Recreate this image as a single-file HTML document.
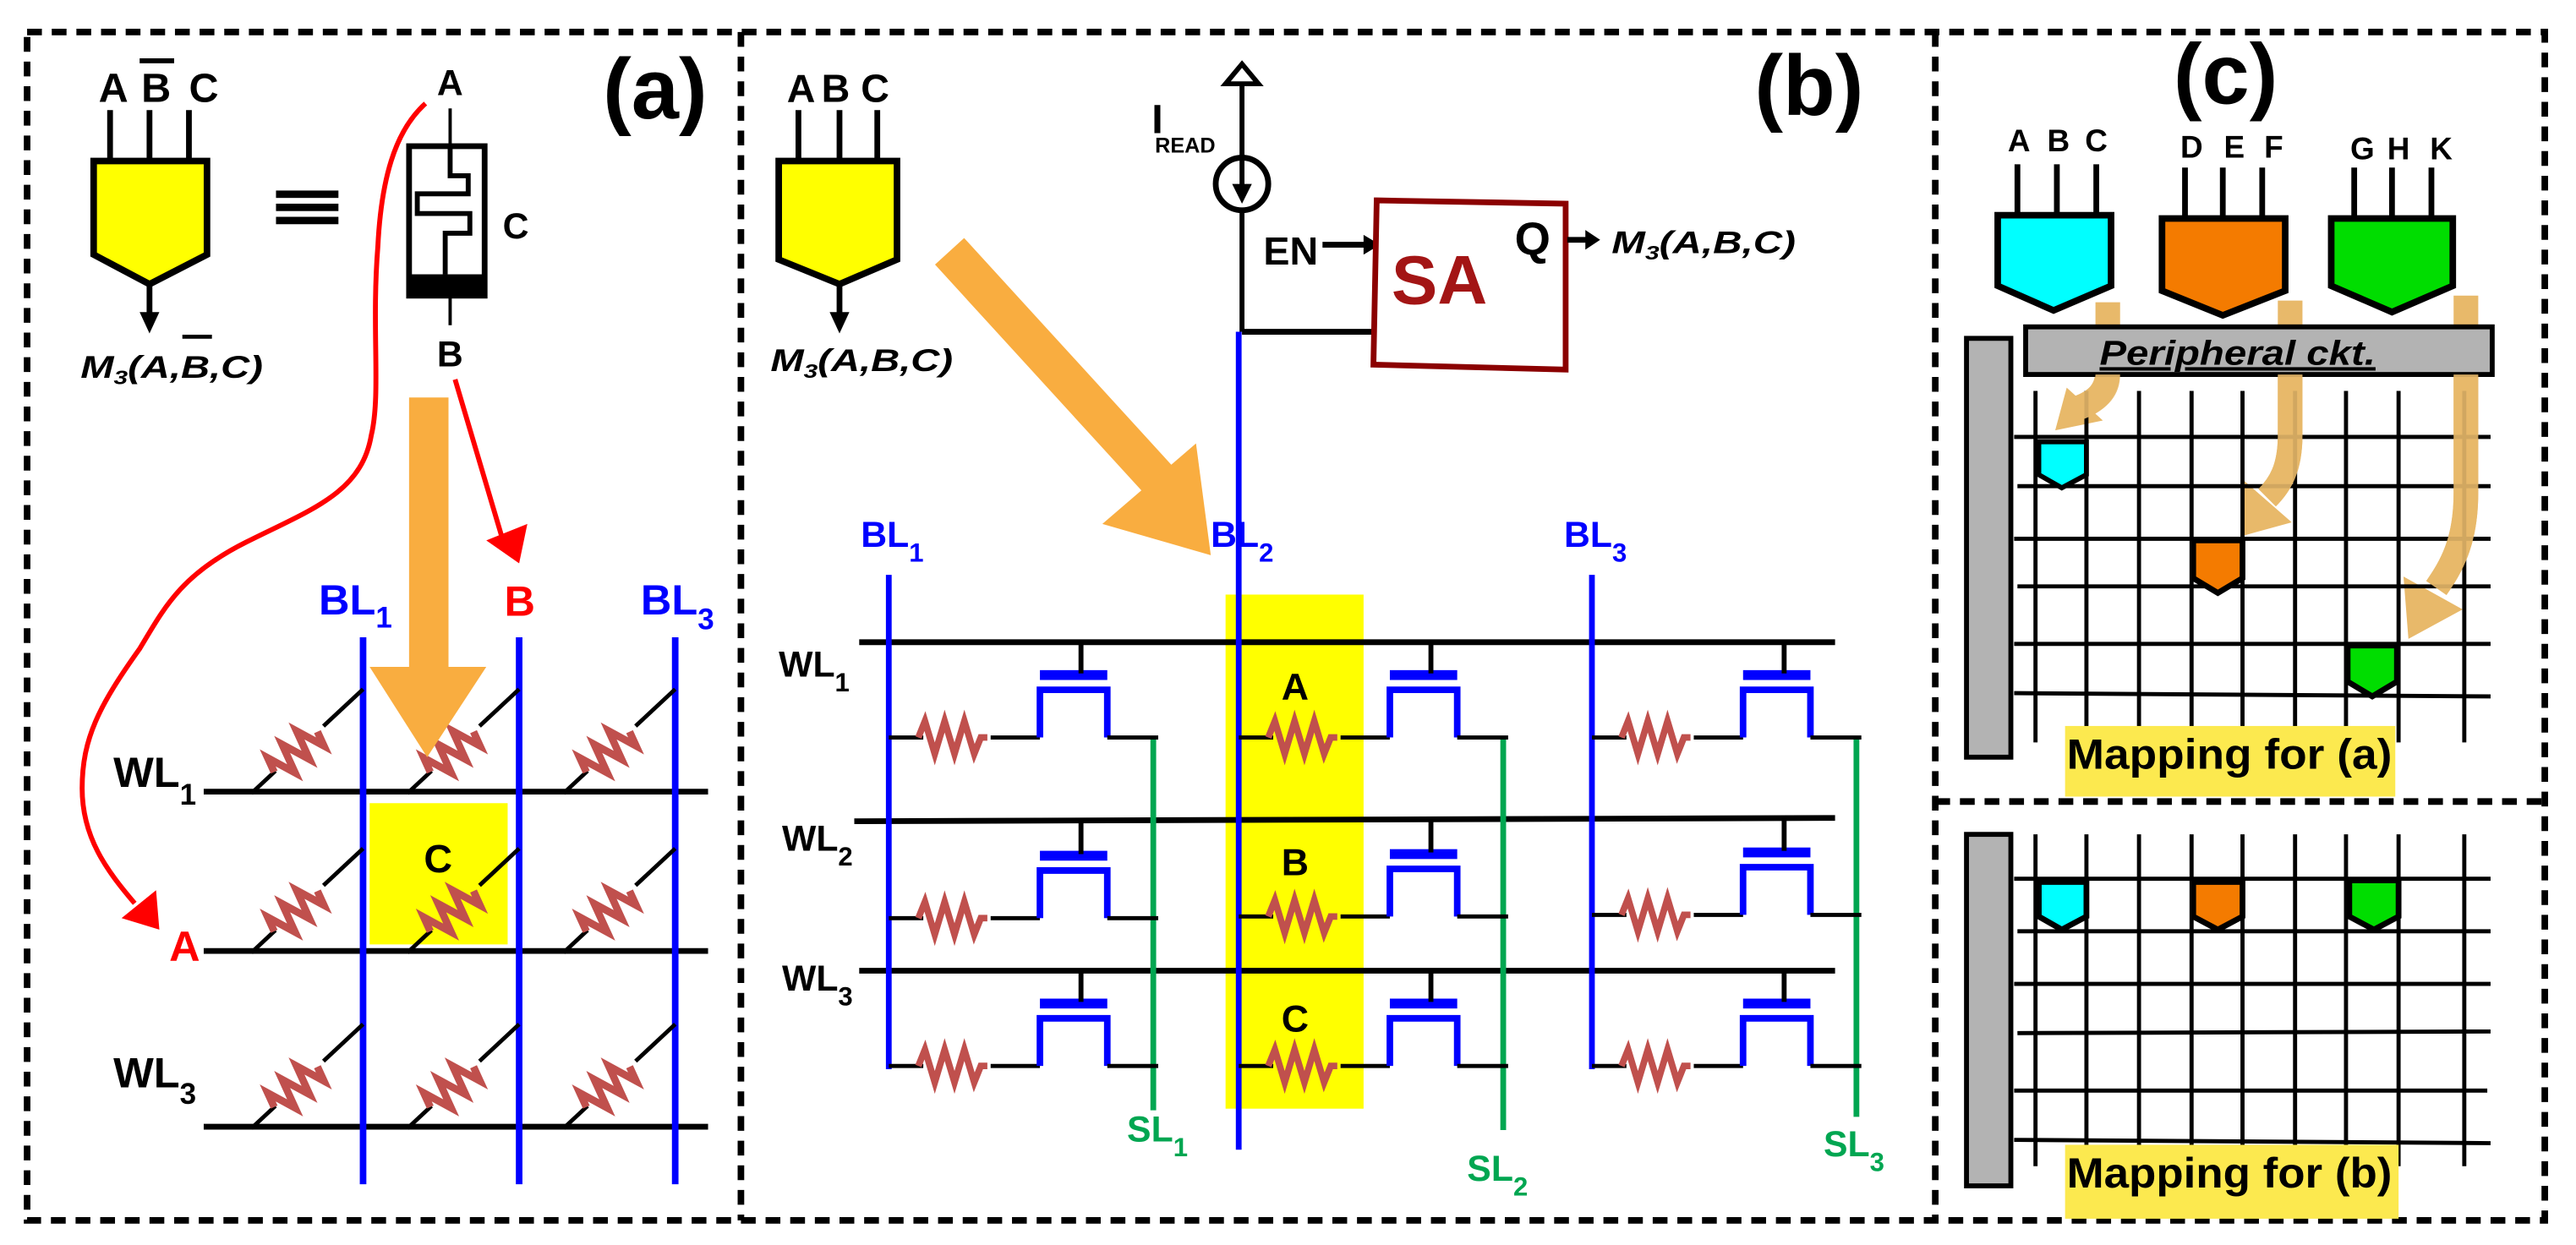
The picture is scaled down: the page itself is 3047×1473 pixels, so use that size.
<!DOCTYPE html>
<html><head><meta charset="utf-8">
<style>
html,body{margin:0;padding:0;background:#fff;}
svg{display:block;}
text{font-family:"Liberation Sans",Arial,sans-serif;font-weight:bold;}
</style></head>
<body>
<svg width="3047" height="1473" viewBox="0 0 1568 758" xmlns="http://www.w3.org/2000/svg">
<rect x="0" y="0" width="1568" height="758" fill="#fff"/>
<!-- frames -->
<g fill="none" stroke="#000" stroke-width="4" stroke-dasharray="9 6">
<rect x="16.5" y="19.5" width="1532.5" height="723.5"/>
<line x1="451" y1="19.5" x2="451" y2="743"/>
<line x1="1178" y1="19.5" x2="1178" y2="743"/>
<line x1="1178" y1="488" x2="1549" y2="488"/>
</g>

<!-- ================= PANEL A ================= -->
<text x="367" y="72" font-size="52">(a)</text>
<text x="60" y="62" font-size="25">A</text>
<text x="86" y="62" font-size="25">B</text>
<line x1="85" y1="37" x2="106" y2="37" stroke="#000" stroke-width="3"/>
<text x="115" y="62" font-size="25">C</text>
<g stroke="#000" stroke-width="3.5">
<line x1="67" y1="67" x2="67" y2="98"/><line x1="91" y1="67" x2="91" y2="98"/><line x1="115" y1="67" x2="115" y2="98"/>
<line x1="91" y1="173" x2="91" y2="192"/>
</g>
<polygon points="57,98 126,98 126,155 91,173 57,155" fill="#ffff00" stroke="#000" stroke-width="4" stroke-linejoin="miter"/>
<polygon points="85,190 97,190 91,203" fill="#000"/>
<text x="49" y="230" font-size="19" font-style="italic" textLength="111" lengthAdjust="spacingAndGlyphs">M<tspan font-size="12" dy="4">3</tspan><tspan dy="-4">(A,B,C)</tspan></text>
<line x1="111" y1="205" x2="129" y2="205" stroke="#000" stroke-width="2.5"/>
<!-- equivalence -->
<g fill="#000"><rect x="168" y="116" width="38" height="4.5"/><rect x="168" y="124" width="38" height="4.5"/><rect x="168" y="132" width="38" height="4.5"/></g>
<!-- device -->
<text x="266" y="58" font-size="22" font-weight="bold">A</text>
<line x1="274" y1="66" x2="274" y2="90" stroke="#000" stroke-width="2"/>
<rect x="249" y="89" width="46" height="91" fill="#fff" stroke="#000" stroke-width="3.5"/>
<rect x="249" y="167" width="46" height="14" fill="#000"/>
<polyline points="274,89 274,107 285,107 285,118 254,118 254,130 286,130 286,142 271,142 271,167" fill="none" stroke="#000" stroke-width="3"/>
<line x1="274" y1="181" x2="274" y2="198" stroke="#000" stroke-width="2"/>
<text x="266" y="223" font-size="22">B</text>
<text x="306" y="145" font-size="22">C</text>
<!-- red curve -->
<path d="M259,63 C240,80 232,110 230,150 C226,200 232,240 226,265 C220,300 190,310 150,330 C110,350 100,370 85,395 C60,430 50,450 50,480 C50,510 65,530 82,550" fill="none" stroke="#ff0000" stroke-width="3"/>
<polygon points="97,566 74,559 95,542" fill="#ff0000"/>
<line x1="277" y1="231" x2="307" y2="332" stroke="#ff0000" stroke-width="3"/>
<polygon points="316,343 296,329 321,319" fill="#ff0000"/>
<!-- grid a -->
<rect x="225" y="489" width="84" height="86" fill="#ffff00"/>
<text x="258" y="531" font-size="24">C</text>
<g stroke="#000" stroke-width="3.5">
<line x1="124" y1="482" x2="431" y2="482"/>
<line x1="124" y1="579" x2="431" y2="579"/>
<line x1="124" y1="686" x2="431" y2="686"/>
</g>
<g stroke="#0000ff" stroke-width="4">
<line x1="221" y1="388" x2="221" y2="721"/>
<line x1="316" y1="388" x2="316" y2="721"/>
<line x1="411" y1="388" x2="411" y2="721"/>
</g>
<defs>
<g id="dres">
<line x1="0" y1="0" x2="20" y2="0" stroke="#000" stroke-width="2.5"/>
<polyline points="19,0 22,-9 28,9 34,-9 40,9 46,-9 52,9 55,0" fill="none" stroke="#c0504d" stroke-width="4.5"/>
<line x1="60" y1="0" x2="93" y2="0" stroke="#000" stroke-width="2.5"/>
</g>
</defs>
<g>
<use href="#dres" transform="translate(153,483) rotate(-43)"/>
<use href="#dres" transform="translate(248,483) rotate(-43)"/>
<use href="#dres" transform="translate(343,483) rotate(-43)"/>
<use href="#dres" transform="translate(153,580) rotate(-43)"/>
<use href="#dres" transform="translate(248,580) rotate(-43)"/>
<use href="#dres" transform="translate(343,580) rotate(-43)"/>
<use href="#dres" transform="translate(153,687) rotate(-43)"/>
<use href="#dres" transform="translate(248,687) rotate(-43)"/>
<use href="#dres" transform="translate(343,687) rotate(-43)"/>
</g>
<!-- orange arrow a -->
<rect x="249" y="242" width="24" height="165" fill="#f9ad40"/>
<polygon points="225,406 296,406 260,461" fill="#f9ad40"/>
<text x="194" y="374" font-size="26" fill="#0000ff">BL<tspan font-size="18" dy="8">1</tspan></text>
<text x="307" y="375" font-size="26" fill="#ff0000">B</text>
<text x="390" y="374" font-size="26" fill="#0000ff">BL<tspan font-size="18" dy="9">3</tspan></text>
<text x="69" y="479" font-size="26">WL<tspan font-size="18" dy="11">1</tspan></text>
<text x="103" y="585" font-size="26" fill="#ff0000">A</text>
<text x="69" y="662" font-size="26">WL<tspan font-size="18" dy="10">3</tspan></text>

<!-- ================= PANEL B ================= -->
<text x="1068" y="70" font-size="52">(b)</text>
<text x="479" y="62" font-size="24">A</text>
<text x="500" y="62" font-size="24">B</text>
<text x="524" y="62" font-size="24">C</text>
<g stroke="#000" stroke-width="3.5">
<line x1="486" y1="67" x2="486" y2="98"/><line x1="511" y1="67" x2="511" y2="98"/><line x1="534" y1="67" x2="534" y2="98"/>
<line x1="511" y1="173" x2="511" y2="192"/>
</g>
<polygon points="474,98 546,98 546,158 511,173 474,158" fill="#ffff00" stroke="#000" stroke-width="4"/>
<polygon points="505,190 517,190 511,203" fill="#000"/>
<text x="469" y="226" font-size="19" font-style="italic" textLength="111" lengthAdjust="spacingAndGlyphs">M<tspan font-size="12" dy="4">3</tspan><tspan dy="-4">(A,B,C)</tspan></text>
<!-- big orange arrow b -->
<line x1="578" y1="153" x2="705" y2="292" stroke="#f9ad40" stroke-width="24"/>
<polygon points="728,270 671,319 737,338" fill="#f9ad40"/>
<!-- IREAD -->
<line x1="756" y1="50" x2="756" y2="202" stroke="#000" stroke-width="3"/>
<polygon points="756,39 766,51 746,51" fill="#fff" stroke="#000" stroke-width="3"/>
<circle cx="756" cy="112" r="16" fill="#fff" stroke="#000" stroke-width="3.5"/>
<line x1="756" y1="96" x2="756" y2="114" stroke="#000" stroke-width="3"/>
<polygon points="750,112 762,112 756,124" fill="#000"/>
<text x="701" y="81" font-size="25" font-weight="normal">I</text>
<text x="703" y="93" font-size="13" font-weight="bold">READ</text>
<line x1="756" y1="202" x2="836" y2="202" stroke="#000" stroke-width="3.5"/>
<text x="769" y="161" font-size="24">EN</text>
<line x1="805" y1="149" x2="832" y2="149" stroke="#000" stroke-width="3.5"/>
<polygon points="830,143 840,149 830,155" fill="#000"/>
<polygon points="838,122 953,124 953,225 836,222" fill="#fff" stroke="#8b0000" stroke-width="3.5"/>
<text x="847" y="185" font-size="42" fill="#a31515">SA</text>
<text x="922" y="155" font-size="28">Q</text>
<line x1="954" y1="146" x2="967" y2="146" stroke="#000" stroke-width="3.5"/>
<polygon points="965,140 974,146 965,152" fill="#000"/>
<text x="981" y="154" font-size="19" font-style="italic" textLength="112" lengthAdjust="spacingAndGlyphs">M<tspan font-size="12" dy="4">3</tspan><tspan dy="-4">(A,B,C)</tspan></text>
<!-- grid b -->
<rect x="746" y="362" width="84" height="313" fill="#ffff00"/>
<g stroke="#000" stroke-width="3.5">
<line x1="523" y1="391" x2="1117" y2="391"/>
<line x1="520" y1="500" x2="1117" y2="498"/>
<line x1="523" y1="591" x2="1117" y2="591"/>
</g>
<g stroke="#0000ff" stroke-width="3.5">
<line x1="541" y1="350" x2="541" y2="651"/>
<line x1="754" y1="202" x2="754" y2="700"/>
<line x1="969" y1="350" x2="969" y2="651"/>
</g>
<g stroke="#00a651" stroke-width="3.5">
<line x1="702" y1="449" x2="702" y2="676"/>
<line x1="915" y1="449" x2="915" y2="688"/>
<line x1="1130" y1="449" x2="1130" y2="680"/>
</g>
<defs>
<g id="cell">
<line x1="0" y1="58" x2="21" y2="58" stroke="#000" stroke-width="2.5"/>
<polyline points="18,58 22,48 28,68 34,48 40,68 46,48 52,68 56,58 60,58" fill="none" stroke="#c0504d" stroke-width="4"/>
<line x1="62" y1="58" x2="92" y2="58" stroke="#000" stroke-width="2.5"/>
<path d="M92,58 V29 H133 V58" fill="none" stroke="#0000ff" stroke-width="4"/>
<line x1="133" y1="58" x2="164" y2="58" stroke="#000" stroke-width="2.5"/>
<rect x="92" y="17" width="41" height="6" fill="#0000ff"/>
<line x1="117" y1="0" x2="117" y2="19" stroke="#000" stroke-width="3"/>
</g>
</defs>
<use href="#cell" transform="translate(541,391)"/>
<use href="#cell" transform="translate(754,391)"/>
<use href="#cell" transform="translate(969,391)"/>
<use href="#cell" transform="translate(541,501)"/>
<use href="#cell" transform="translate(754,500)"/>
<use href="#cell" transform="translate(969,499)"/>
<use href="#cell" transform="translate(541,591)"/>
<use href="#cell" transform="translate(754,591)"/>
<use href="#cell" transform="translate(969,591)"/>
<text x="780" y="426" font-size="23">A</text>
<text x="780" y="533" font-size="23">B</text>
<text x="780" y="628" font-size="23">C</text>
<text x="524" y="333" font-size="22" fill="#0000ff">BL<tspan font-size="16" dy="9">1</tspan></text>
<text x="737" y="333" font-size="22" fill="#0000ff">BL<tspan font-size="16" dy="9">2</tspan></text>
<text x="952" y="333" font-size="22" fill="#0000ff">BL<tspan font-size="16" dy="9">3</tspan></text>
<text x="474" y="412" font-size="22">WL<tspan font-size="16" dy="9">1</tspan></text>
<text x="476" y="518" font-size="22">WL<tspan font-size="16" dy="9">2</tspan></text>
<text x="476" y="603" font-size="22">WL<tspan font-size="16" dy="9">3</tspan></text>
<text x="686" y="695" font-size="22" fill="#00a651">SL<tspan font-size="16" dy="9">1</tspan></text>
<text x="893" y="719" font-size="22" fill="#00a651">SL<tspan font-size="16" dy="9">2</tspan></text>
<text x="1110" y="704" font-size="22" fill="#00a651">SL<tspan font-size="16" dy="9">3</tspan></text>

<!-- ================= PANEL C ================= -->
<text x="1323" y="63" font-size="52">(c)</text>
<g font-size="19" text-anchor="middle">
<text x="1229" y="92">A</text><text x="1253" y="92">B</text><text x="1276" y="92">C</text>
<text x="1334" y="96">D</text><text x="1360" y="96">E</text><text x="1384" y="96">F</text>
<text x="1438" y="97">G</text><text x="1460" y="97">H</text><text x="1486" y="97">K</text>
</g>
<g stroke="#000" stroke-width="3.5">
<line x1="1228" y1="100" x2="1228" y2="132"/><line x1="1252" y1="100" x2="1252" y2="132"/><line x1="1276" y1="100" x2="1276" y2="132"/>
<line x1="1330" y1="102" x2="1330" y2="134"/><line x1="1353" y1="102" x2="1353" y2="134"/><line x1="1377" y1="102" x2="1377" y2="134"/>
<line x1="1433" y1="102" x2="1433" y2="134"/><line x1="1456" y1="102" x2="1456" y2="134"/><line x1="1480" y1="102" x2="1480" y2="134"/>
</g>
<polygon points="1216,131 1285,131 1285,174 1250,189 1216,174" fill="#00ffff" stroke="#000" stroke-width="4"/>
<polygon points="1316,133 1391,133 1391,177 1353,192 1316,177" fill="#f47b00" stroke="#000" stroke-width="4"/>
<polygon points="1419,133 1493,133 1493,174 1456,190 1419,174" fill="#00dd00" stroke="#000" stroke-width="4"/>
<!-- tan arrows behind bar -->
<g fill="none" stroke="#e8b96a" stroke-width="15">
<path d="M1283,184 L1283,225 C1283,238 1276,244 1266,248"/>
<path d="M1394,183 L1394,265 C1394,285 1388,295 1380,303"/>
<path d="M1501,180 L1501,300 C1501,330 1492,345 1483,358"/>
</g>
<g fill="#e8b96a">
<polygon points="1258,236 1280,256 1251,262"/>
<polygon points="1364,291 1395,318 1366,326"/>
<polygon points="1463,351 1499,371 1466,389"/>
</g>
<rect x="1233" y="199" width="284" height="29" fill="#b3b3b3" stroke="#000" stroke-width="3"/>
<text x="1278" y="222" font-size="21" font-style="italic" text-decoration="underline" textLength="168" lengthAdjust="spacingAndGlyphs">Peripheral ckt.</text>
<!-- grid (a) -->
<rect x="1197" y="206" width="27" height="255" fill="#b3b3b3" stroke="#000" stroke-width="3"/>
<g stroke="#000" stroke-width="2.5">
<line x1="1239" y1="238" x2="1239" y2="452"/><line x1="1270" y1="238" x2="1270" y2="452"/><line x1="1302" y1="238" x2="1302" y2="452"/>
<line x1="1334" y1="238" x2="1334" y2="452"/><line x1="1365" y1="238" x2="1365" y2="452"/><line x1="1397" y1="238" x2="1397" y2="452"/>
<line x1="1428" y1="238" x2="1428" y2="452"/><line x1="1460" y1="238" x2="1460" y2="452"/><line x1="1500" y1="238" x2="1500" y2="452"/>
<line x1="1226" y1="266" x2="1516" y2="266"/><line x1="1228" y1="296" x2="1516" y2="296"/><line x1="1226" y1="328" x2="1516" y2="328"/>
<line x1="1228" y1="357" x2="1516" y2="357"/><line x1="1226" y1="392" x2="1516" y2="392"/><line x1="1226" y1="422" x2="1516" y2="424"/>
</g>
<g stroke="#e8b96a" stroke-width="15" fill="none" opacity="0.9">
<path d="M1283,228 C1283,238 1276,244 1266,248"/>
<path d="M1394,228 L1394,265 C1394,285 1388,295 1380,303"/>
<path d="M1501,228 L1501,300 C1501,330 1492,345 1483,358"/>
</g>
<polygon points="1241,269 1270,269 1270,289 1255,297 1241,289" fill="#00ffff" stroke="#000" stroke-width="3"/>
<polygon points="1335,329 1365,329 1365,352 1350,361 1335,352" fill="#f47b00" stroke="#000" stroke-width="3.5"/>
<polygon points="1429,393 1459,393 1459,415 1444,424 1429,415" fill="#00dd00" stroke="#000" stroke-width="3.5"/>
<rect x="1257" y="442" width="201" height="43" fill="#fce94f"/>
<text x="1258" y="468" font-size="26" textLength="198" lengthAdjust="spacingAndGlyphs">Mapping for (a)</text>
<!-- grid (b) -->
<rect x="1197" y="508" width="27" height="214" fill="#b3b3b3" stroke="#000" stroke-width="3"/>
<g stroke="#000" stroke-width="2.5">
<line x1="1239" y1="508" x2="1239" y2="710"/><line x1="1270" y1="508" x2="1270" y2="710"/><line x1="1302" y1="508" x2="1302" y2="710"/>
<line x1="1334" y1="508" x2="1334" y2="710"/><line x1="1365" y1="508" x2="1365" y2="710"/><line x1="1397" y1="508" x2="1397" y2="710"/>
<line x1="1428" y1="508" x2="1428" y2="710"/><line x1="1460" y1="508" x2="1460" y2="710"/><line x1="1500" y1="508" x2="1500" y2="710"/>
<line x1="1226" y1="535" x2="1516" y2="535"/><line x1="1228" y1="567" x2="1516" y2="567"/><line x1="1226" y1="599" x2="1516" y2="599"/>
<line x1="1228" y1="629" x2="1516" y2="628"/><line x1="1226" y1="664" x2="1514" y2="664"/><line x1="1226" y1="694" x2="1516" y2="696"/>
</g>
<polygon points="1241,537 1270,537 1270,558 1255,566 1241,558" fill="#00ffff" stroke="#000" stroke-width="3.5"/>
<polygon points="1335,537 1365,537 1365,558 1350,566 1335,558" fill="#f47b00" stroke="#000" stroke-width="3.5"/>
<polygon points="1430,536 1460,536 1460,558 1445,566 1430,558" fill="#00dd00" stroke="#000" stroke-width="3.5"/>
<rect x="1257" y="697" width="203" height="45" fill="#fce94f"/>
<text x="1258" y="723" font-size="26" textLength="198" lengthAdjust="spacingAndGlyphs">Mapping for (b)</text>
</svg>
</body></html>
